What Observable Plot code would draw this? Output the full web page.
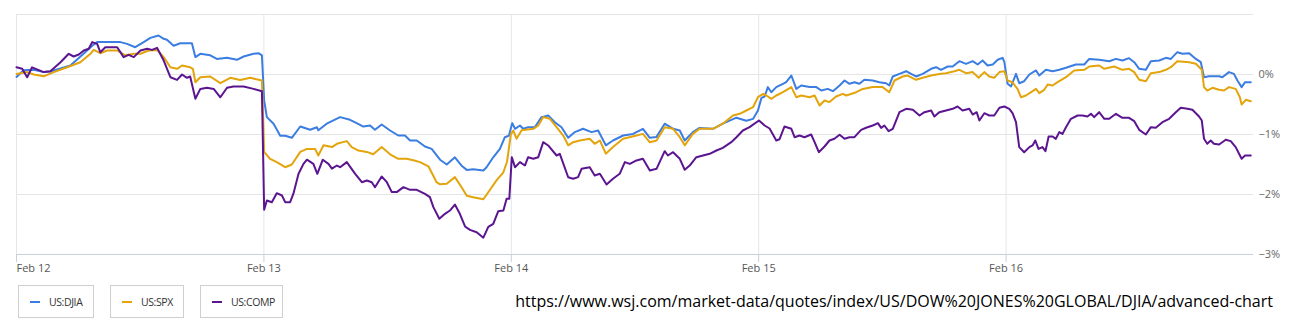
<!DOCTYPE html>
<html><head><meta charset="utf-8">
<script src="https://cdn.jsdelivr.net/npm/d3@7"></script>
<script src="https://cdn.jsdelivr.net/npm/@observablehq/plot@0.6"></script>
<style>
html,body{margin:0;padding:0;background:#fff}
body{width:1292px;height:336px;position:relative;overflow:hidden;font-family:"Open Sans",sans-serif}
#chart{position:absolute;left:0;top:0}
#legend{position:absolute;top:285px;left:18px;display:flex;gap:16px}
.item{box-sizing:border-box;height:33px;border:1px solid #cfcfcf;display:flex;align-items:center;padding:0 0 0 11px;font-size:10.5px;color:#333;letter-spacing:-0.4px}
.sw{width:10px;height:2px;margin-right:9px}
#caption{position:absolute;top:290px;right:19px;font-size:16px;line-height:22px;color:#000;white-space:nowrap}
</style></head><body>
<div id="chart"></div>
<div id="legend"></div>
<div id="caption">https://www.wsj.com/market-data/quotes/index/US/DOW%20JONES%20GLOBAL/DJIA/advanced-chart</div>
<script>
const dayLabels = ["Feb 12","Feb 13","Feb 14","Feb 15","Feb 16"];
const dayIndex = [0,1,2,3,4];
const yTicks = [0,-1,-2,-3];
const yGrid = [1,0,-1,-2];
const seriesNames = ["US:DJIA","US:SPX","US:COMP"];
const seriesColors = ["#3b7de0","#e3a40c","#5c1590"];
const legendWidths = [76,74,83];

// [session day index + fraction of session, % change]
const djia = [
[0,-0.04],[0.029,0.07],[0.070,0.08],[0.110,0.04],[0.137,0.05],[0.178,0.10],[0.218,0.15],[0.245,0.25],[0.272,0.35],[0.306,0.48],[0.326,0.54],[0.366,0.54],[0.420,0.54],[0.447,0.51],[0.480,0.455],[0.514,0.54],[0.541,0.61],[0.574,0.65],[0.595,0.595],[0.608,0.58],[0.635,0.48],[0.662,0.52],[0.709,0.52],[0.723,0.29],[0.743,0.345],[0.783,0.32],[0.810,0.26],[0.851,0.28],[0.891,0.245],[0.918,0.30],[0.958,0.345],[0.978,0.355],[0.992,0.32],
[1.001,-0.43],[1.012,-0.71],[1.039,-0.82],[1.066,-1.02],[1.086,-1.02],[1.113,-1.055],[1.147,-0.867],[1.187,-0.92],[1.214,-0.88],[1.220,-0.93],[1.254,-0.82],[1.308,-0.71],[1.348,-0.755],[1.375,-0.81],[1.402,-0.867],[1.429,-0.85],[1.449,-0.92],[1.476,-0.833],[1.510,-0.933],[1.543,-1.017],[1.570,-1.017],[1.591,-1.10],[1.618,-1.10],[1.651,-1.20],[1.678,-1.24],[1.712,-1.42],[1.739,-1.50],[1.772,-1.38],[1.799,-1.52],[1.820,-1.59],[1.846,-1.58],[1.887,-1.60],[1.900,-1.545],[1.927,-1.38],[1.954,-1.24],[1.974,-1.045],[1.990,-1.02],
[2.004,-0.81],[2.015,-0.905],[2.035,-0.85],[2.048,-0.905],[2.068,-0.878],[2.095,-0.878],[2.122,-0.71],[2.149,-0.683],[2.176,-0.795],[2.203,-0.878],[2.230,-1.055],[2.257,-0.96],[2.290,-0.905],[2.324,-0.96],[2.351,-0.933],[2.382,-1.18],[2.411,-1.10],[2.452,-1.017],[2.492,-0.99],[2.532,-0.905],[2.560,-1.055],[2.587,-1.04],[2.620,-0.82],[2.654,-0.905],[2.681,-0.933],[2.701,-1.10],[2.734,-0.96],[2.761,-0.89],[2.815,-0.905],[2.855,-0.82],[2.910,-0.72],[2.950,-0.77],[2.977,-0.74],[2.997,-0.60],
[3.011,-0.39],[3.024,-0.367],[3.037,-0.21],[3.051,-0.295],[3.071,-0.21],[3.098,-0.155],[3.111,-0.128],[3.132,-0.017],[3.152,-0.24],[3.172,-0.183],[3.206,-0.21],[3.233,-0.21],[3.253,-0.267],[3.279,-0.24],[3.300,-0.278],[3.327,-0.183],[3.347,-0.10],[3.367,-0.155],[3.387,-0.128],[3.407,-0.155],[3.427,-0.088],[3.461,-0.10],[3.488,-0.128],[3.515,-0.145],[3.528,-0.183],[3.542,-0.033],[3.569,0.01],[3.596,0.055],[3.616,0.01],[3.636,-0.033],[3.663,0.01],[3.697,0.095],[3.717,0.122],[3.737,0.078],[3.764,0.133],[3.784,0.133],[3.811,0.222],[3.838,0.178],[3.865,0.222],[3.885,0.167],[3.905,0.233],[3.925,0.15],[3.946,0.167],[3.966,0.245],[3.986,0.278],[3.993,0.205],
[4.006,-0.155],[4.020,-0.20],[4.040,0.01],[4.053,-0.145],[4.073,-0.112],[4.094,0.0],[4.121,0.067],[4.134,-0.017],[4.161,0.078],[4.188,0.055],[4.215,0.078],[4.242,0.112],[4.282,0.167],[4.316,0.167],[4.336,0.26],[4.376,0.245],[4.417,0.222],[4.444,0.26],[4.470,0.233],[4.497,0.272],[4.518,0.205],[4.538,0.095],[4.565,0.078],[4.585,0.222],[4.619,0.233],[4.646,0.278],[4.666,0.26],[4.692,0.372],[4.713,0.345],[4.740,0.355],[4.767,0.26],[4.787,0.205],[4.800,-0.045],[4.820,-0.028],[4.861,-0.028],[4.874,-0.045],[4.901,0.04],[4.921,0.01],[4.935,-0.10],[4.952,-0.21],[4.966,-0.128],[4.989,-0.128]
];
const spx = [
[0,0.01],[0.043,0.04],[0.070,0.0],[0.110,-0.03],[0.151,0.04],[0.205,0.12],[0.258,0.205],[0.299,0.345],[0.312,0.41],[0.339,0.355],[0.366,0.40],[0.407,0.40],[0.440,0.32],[0.474,0.345],[0.501,0.345],[0.534,0.40],[0.568,0.41],[0.595,0.29],[0.622,0.12],[0.649,0.095],[0.669,0.15],[0.702,0.12],[0.713,0.095],[0.723,-0.13],[0.743,-0.045],[0.783,-0.033],[0.824,-0.145],[0.864,-0.055],[0.904,-0.09],[0.945,-0.055],[0.992,-0.10],
[1.001,-1.29],[1.025,-1.405],[1.052,-1.46],[1.086,-1.545],[1.113,-1.50],[1.147,-1.29],[1.174,-1.24],[1.207,-1.24],[1.220,-1.35],[1.241,-1.18],[1.275,-1.21],[1.295,-1.155],[1.335,-1.11],[1.355,-1.21],[1.382,-1.267],[1.416,-1.29],[1.442,-1.33],[1.476,-1.21],[1.510,-1.33],[1.543,-1.405],[1.577,-1.405],[1.604,-1.43],[1.631,-1.46],[1.665,-1.53],[1.698,-1.795],[1.712,-1.83],[1.739,-1.82],[1.772,-1.71],[1.799,-1.88],[1.820,-2.02],[1.846,-2.045],[1.887,-2.08],[1.914,-1.92],[1.941,-1.76],[1.968,-1.63],[1.983,-1.45],[1.998,-1.0],
[2.008,-0.933],[2.021,-1.07],[2.042,-0.93],[2.089,-0.905],[2.109,-0.85],[2.129,-0.71],[2.156,-0.738],[2.183,-0.878],[2.210,-1.017],[2.230,-1.18],[2.250,-1.128],[2.277,-1.10],[2.317,-1.072],[2.337,-1.155],[2.358,-1.10],[2.382,-1.32],[2.411,-1.21],[2.452,-1.07],[2.506,-1.017],[2.532,-0.99],[2.560,-1.13],[2.587,-1.10],[2.620,-0.878],[2.654,-0.905],[2.681,-1.045],[2.701,-1.18],[2.734,-0.99],[2.761,-0.905],[2.815,-0.905],[2.855,-0.82],[2.896,-0.683],[2.923,-0.655],[2.950,-0.60],[2.977,-0.545],[2.997,-0.378],
[3.018,-0.322],[3.031,-0.35],[3.051,-0.405],[3.071,-0.35],[3.098,-0.295],[3.132,-0.21],[3.152,-0.378],[3.172,-0.35],[3.206,-0.378],[3.226,-0.35],[3.246,-0.517],[3.266,-0.433],[3.286,-0.46],[3.313,-0.367],[3.340,-0.322],[3.354,-0.35],[3.394,-0.295],[3.421,-0.24],[3.461,-0.21],[3.501,-0.21],[3.528,-0.295],[3.549,-0.10],[3.582,-0.033],[3.602,-0.017],[3.636,-0.088],[3.663,-0.055],[3.697,-0.017],[3.730,0.01],[3.757,0.022],[3.791,0.055],[3.811,0.078],[3.838,0.022],[3.865,0.04],[3.889,-0.055],[3.912,0.04],[3.932,-0.033],[3.952,-0.055],[3.973,0.04],[3.993,0.055],
[4.006,-0.10],[4.026,-0.13],[4.046,-0.24],[4.060,-0.378],[4.080,-0.35],[4.101,-0.295],[4.121,-0.24],[4.134,-0.31],[4.154,-0.255],[4.168,-0.167],[4.188,-0.183],[4.208,-0.128],[4.242,-0.045],[4.275,0.067],[4.316,0.078],[4.336,0.133],[4.376,0.15],[4.397,0.095],[4.437,0.133],[4.470,0.078],[4.497,0.095],[4.518,0.04],[4.538,-0.088],[4.565,-0.112],[4.585,0.022],[4.619,0.04],[4.646,0.078],[4.666,0.122],[4.692,0.222],[4.740,0.205],[4.767,0.178],[4.791,0.078],[4.800,-0.21],[4.813,-0.267],[4.834,-0.222],[4.861,-0.255],[4.881,-0.267],[4.901,-0.21],[4.928,-0.24],[4.945,-0.378],[4.952,-0.50],[4.969,-0.422],[4.989,-0.445]
];
const comp = [
[0,0.12],[0.023,0.095],[0.043,-0.045],[0.063,0.12],[0.110,0.04],[0.137,0.055],[0.178,0.205],[0.211,0.345],[0.231,0.30],[0.252,0.333],[0.272,0.40],[0.292,0.428],[0.306,0.54],[0.326,0.51],[0.339,0.37],[0.359,0.455],[0.407,0.455],[0.433,0.29],[0.453,0.328],[0.474,0.29],[0.501,0.40],[0.528,0.43],[0.548,0.41],[0.568,0.445],[0.595,0.233],[0.622,-0.045],[0.649,-0.09],[0.669,0.0],[0.689,-0.055],[0.702,-0.033],[0.723,-0.405],[0.743,-0.24],[0.770,-0.22],[0.797,-0.24],[0.824,-0.38],[0.851,-0.22],[0.877,-0.20],[0.918,-0.20],[0.958,-0.24],[0.992,-0.28],
[1.001,-2.255],[1.012,-2.10],[1.032,-2.128],[1.052,-1.978],[1.073,-2.017],[1.086,-2.128],[1.106,-2.128],[1.119,-1.99],[1.140,-1.655],[1.160,-1.49],[1.174,-1.42],[1.200,-1.49],[1.216,-1.655],[1.238,-1.42],[1.261,-1.49],[1.275,-1.57],[1.295,-1.517],[1.308,-1.545],[1.335,-1.46],[1.369,-1.655],[1.396,-1.795],[1.416,-1.767],[1.436,-1.795],[1.449,-1.878],[1.476,-1.70],[1.497,-1.795],[1.517,-1.96],[1.537,-1.96],[1.564,-1.878],[1.591,-1.922],[1.618,-1.922],[1.651,-1.99],[1.671,-2.045],[1.685,-2.21],[1.709,-2.405],[1.732,-2.322],[1.752,-2.267],[1.772,-2.167],[1.792,-2.322],[1.813,-2.533],[1.833,-2.59],[1.860,-2.628],[1.887,-2.72],[1.907,-2.54],[1.927,-2.49],[1.947,-2.28],[1.968,-2.267],[1.981,-2.072],[1.992,-2.07],
[2.002,-1.378],[2.015,-1.545],[2.035,-1.46],[2.055,-1.517],[2.068,-1.378],[2.089,-1.405],[2.109,-1.378],[2.129,-1.128],[2.149,-1.183],[2.183,-1.35],[2.196,-1.322],[2.230,-1.712],[2.250,-1.738],[2.270,-1.71],[2.284,-1.572],[2.317,-1.545],[2.337,-1.683],[2.358,-1.655],[2.385,-1.833],[2.411,-1.738],[2.438,-1.655],[2.459,-1.46],[2.479,-1.49],[2.506,-1.433],[2.532,-1.405],[2.560,-1.60],[2.587,-1.572],[2.620,-1.278],[2.633,-1.35],[2.654,-1.295],[2.681,-1.405],[2.701,-1.588],[2.721,-1.517],[2.748,-1.378],[2.775,-1.35],[2.802,-1.322],[2.829,-1.267],[2.855,-1.222],[2.889,-1.128],[2.910,-1.045],[2.936,-0.933],[2.963,-0.878],[3.001,-0.767],
[3.024,-0.85],[3.044,-0.90],[3.071,-1.10],[3.084,-1.08],[3.104,-0.867],[3.132,-0.905],[3.145,-1.045],[3.165,-1.017],[3.185,-1.045],[3.212,-1.0],[3.226,-1.128],[3.243,-1.295],[3.266,-1.20],[3.286,-1.10],[3.306,-1.072],[3.327,-1.005],[3.347,-1.07],[3.367,-1.045],[3.387,-1.045],[3.414,-0.922],[3.434,-0.888],[3.461,-0.85],[3.482,-0.811],[3.495,-0.89],[3.508,-0.85],[3.525,-0.945],[3.542,-0.905],[3.569,-0.628],[3.596,-0.572],[3.623,-0.588],[3.650,-0.683],[3.670,-0.628],[3.697,-0.60],[3.710,-0.70],[3.730,-0.628],[3.757,-0.60],[3.784,-0.572],[3.804,-0.533],[3.824,-0.60],[3.851,-0.572],[3.865,-0.667],[3.881,-0.628],[3.892,-0.767],[3.912,-0.645],[3.932,-0.683],[3.952,-0.683],[3.973,-0.555],[3.993,-0.533],
[4.013,-0.572],[4.026,-0.645],[4.040,-0.795],[4.053,-1.21],[4.073,-1.295],[4.094,-1.21],[4.107,-1.183],[4.118,-1.10],[4.131,-1.24],[4.147,-1.21],[4.159,-1.278],[4.172,-1.033],[4.188,-1.033],[4.201,-1.072],[4.215,-0.96],[4.228,-0.99],[4.242,-0.878],[4.262,-0.738],[4.289,-0.683],[4.309,-0.683],[4.329,-0.70],[4.343,-0.655],[4.356,-0.711],[4.376,-0.628],[4.397,-0.738],[4.417,-0.738],[4.444,-0.655],[4.470,-0.722],[4.497,-0.722],[4.518,-0.778],[4.538,-0.922],[4.565,-1.0],[4.585,-0.878],[4.605,-0.888],[4.632,-0.795],[4.659,-0.738],[4.686,-0.628],[4.706,-0.555],[4.733,-0.572],[4.753,-0.588],[4.780,-0.70],[4.791,-0.767],[4.800,-1.072],[4.813,-1.155],[4.827,-1.10],[4.840,-1.155],[4.861,-1.167],[4.888,-1.088],[4.908,-1.111],[4.928,-1.21],[4.952,-1.405],[4.966,-1.35],[4.989,-1.35]
];

const seriesData = [djia, spx, comp];
const rows = seriesData.flatMap((arr, i) => arr.map(([t, v]) => ({t, v, s: seriesNames[i]})));
const fmtPct = d => d === 0 ? "0%" : (d < 0 ? "\u2212" + Math.abs(d) + "%" : d + "%");

const chart = Plot.plot({
  width: 1292,
  height: 280,
  marginLeft: 16,
  marginRight: 39,
  marginTop: 14,
  marginBottom: 26,
  x: {domain: [0, 5], axis: null, label: null},
  y: {domain: [-3, 1], axis: null, label: null},
  color: {domain: seriesNames, range: seriesColors},
  style: {fontFamily: "'Open Sans', sans-serif", fontSize: "11px", background: "#fff", overflow: "visible"},
  marks: [
    Plot.gridY(yGrid, {stroke: "#e5e5e5", strokeOpacity: 1}),
    Plot.gridX(dayIndex, {stroke: "#e3e7eb", strokeOpacity: 1}),
    Plot.ruleY([-3], {stroke: "#c6d1db", strokeWidth: 1}),
    Plot.axisX([0], {label: null, tickSize: 8, tickPadding: 2, stroke: "#c6d1db", fill: "#555", textAnchor: "start", tickFormat: i => dayLabels[i]}),
    Plot.axisX(dayIndex.slice(1), {label: null, tickSize: 8, tickPadding: 2, stroke: "#c6d1db", fill: "#555", tickFormat: i => dayLabels[i]}),
    Plot.axisY(yTicks, {label: null, anchor: "right", tickSize: 0, tickPadding: 5, fill: "#666", tickFormat: fmtPct}),
    Plot.line(rows, {x: "t", y: "v", z: "s", stroke: "s", strokeWidth: 2, strokeLinejoin: "round", strokeLinecap: "round"})
  ]
});
document.getElementById("chart").appendChild(chart);

const legend = document.getElementById("legend");
seriesNames.forEach((name, i) => {
  const item = document.createElement("div");
  item.className = "item";
  item.style.width = legendWidths[i] + "px";
  const sw = document.createElement("span");
  sw.className = "sw";
  sw.style.background = seriesColors[i];
  const lab = document.createElement("span");
  lab.textContent = name;
  item.appendChild(sw);
  item.appendChild(lab);
  legend.appendChild(item);
});
</script>
</body></html>
